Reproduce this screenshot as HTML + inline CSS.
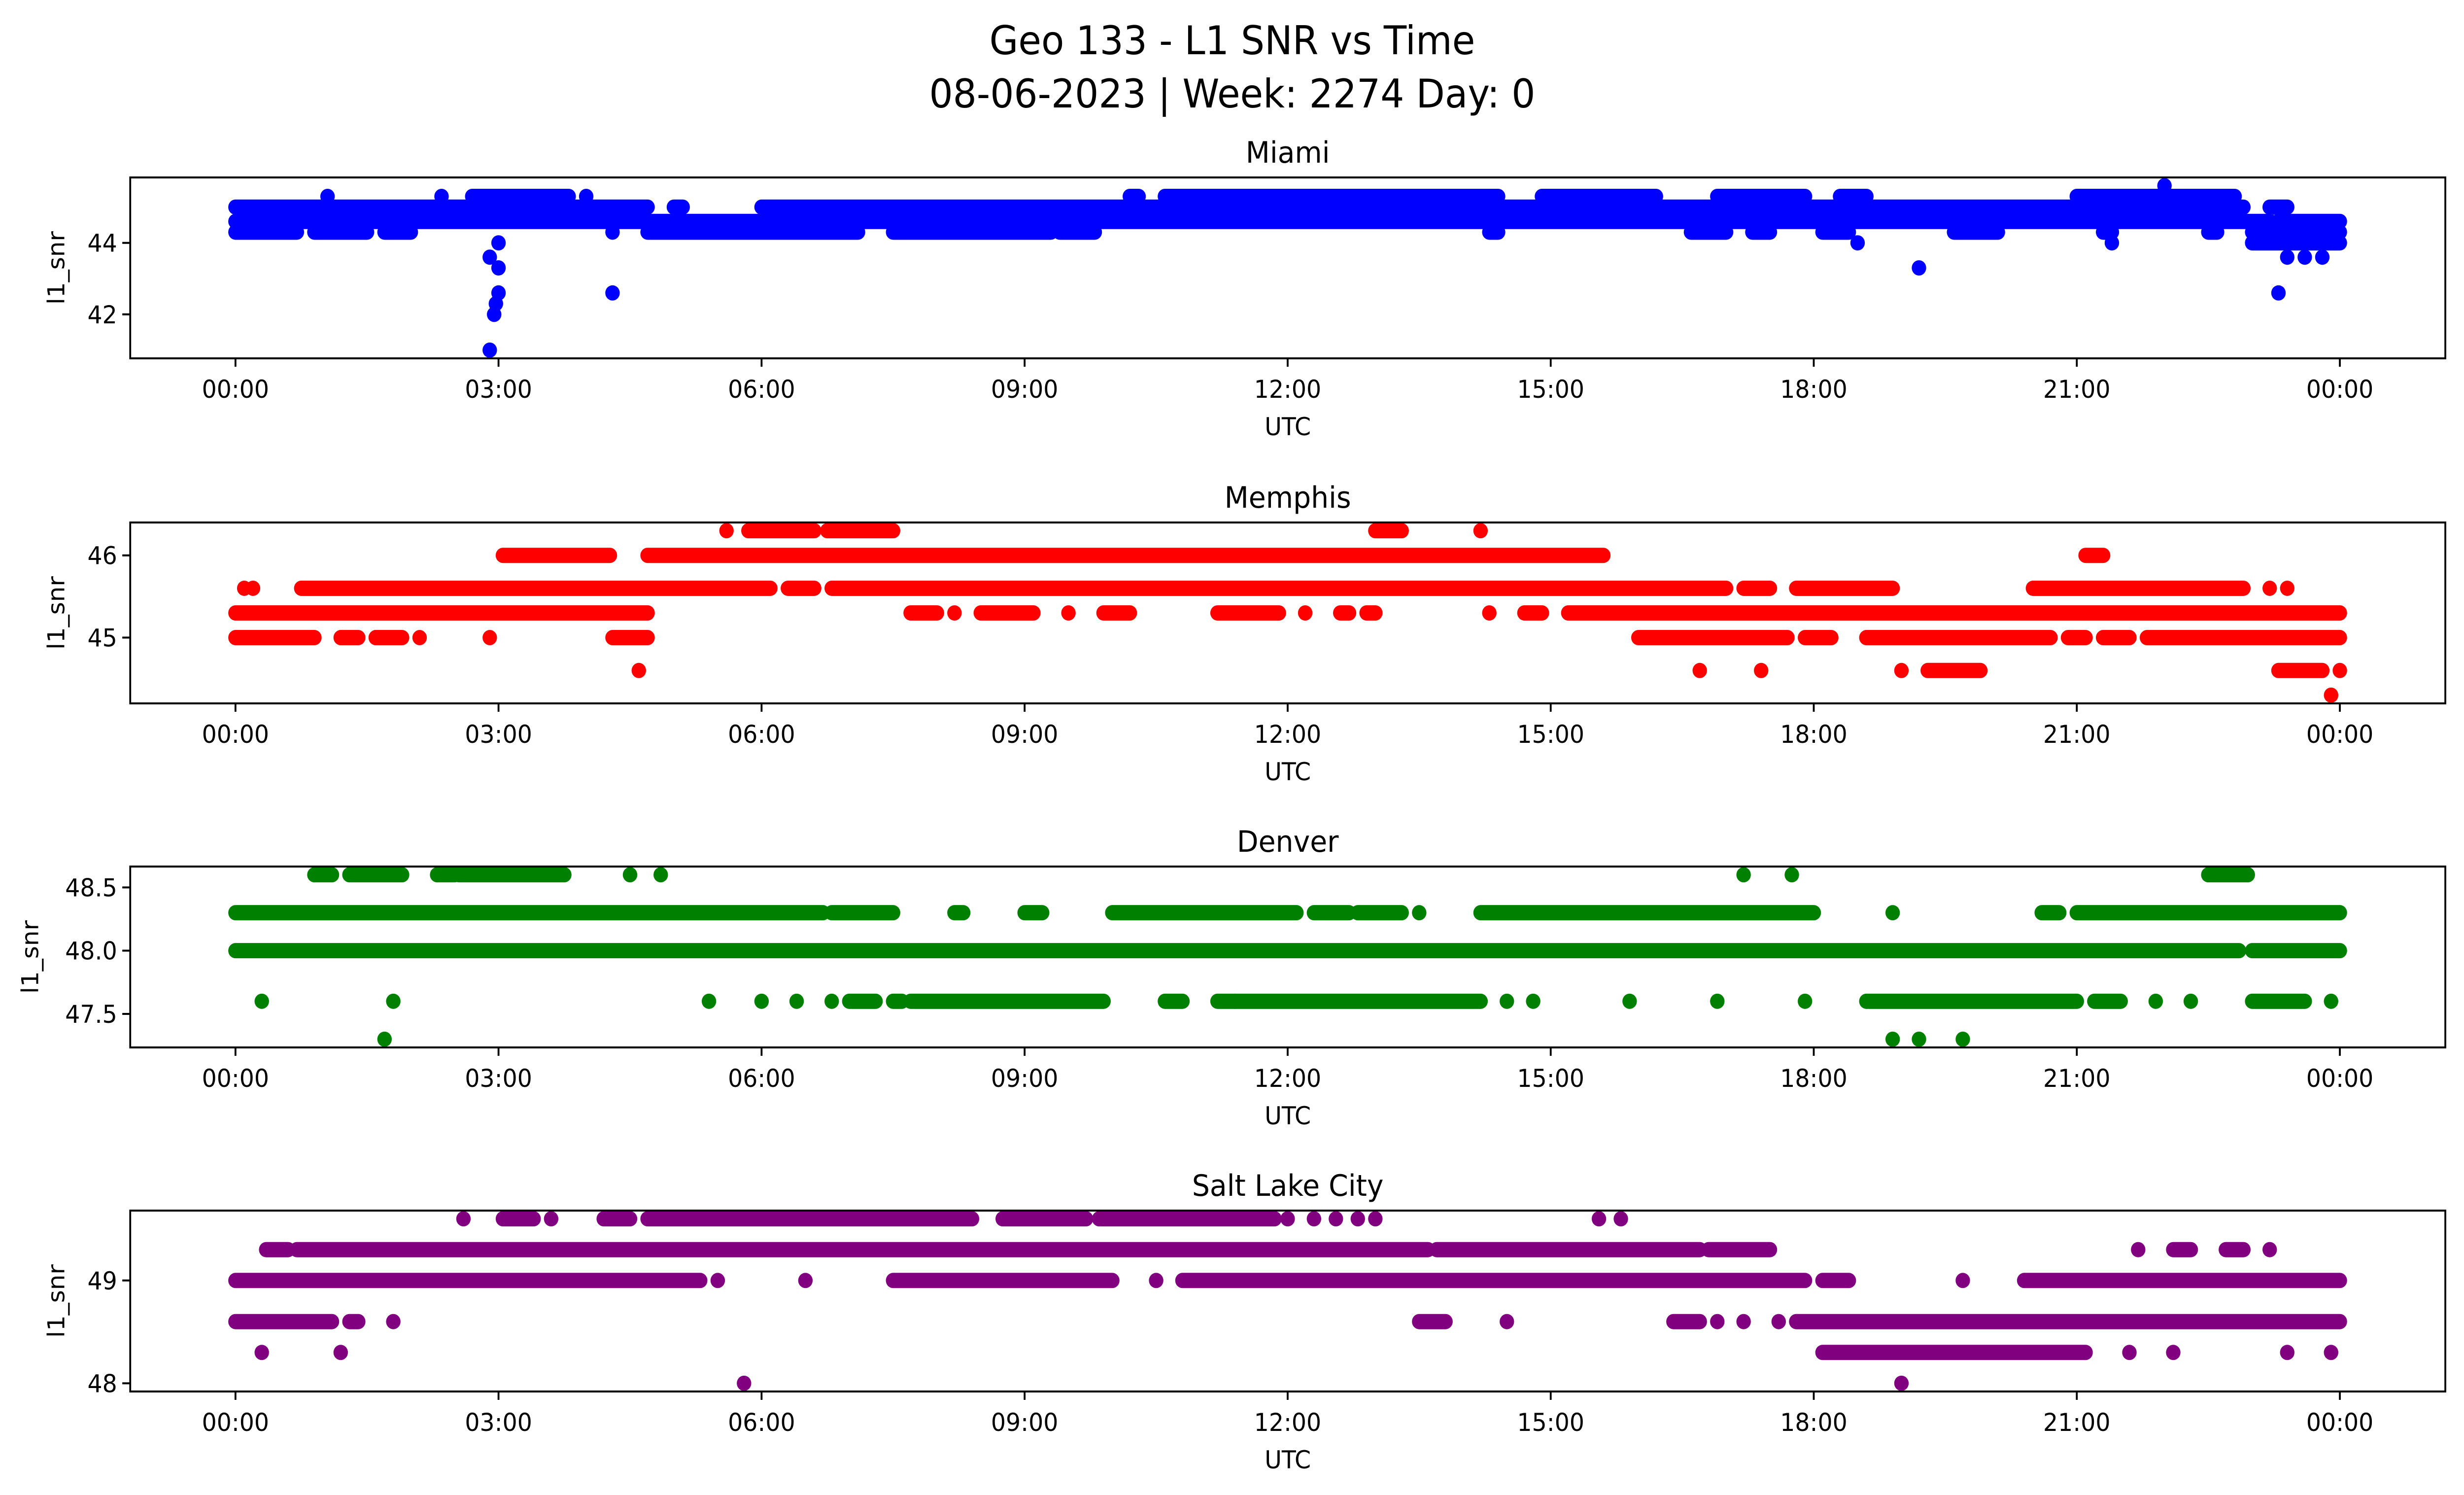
<!DOCTYPE html>
<html><head><meta charset="utf-8"><style>
html,body{margin:0;padding:0;background:#fff;width:100%;height:100%;overflow:hidden;}
svg{display:block;position:absolute;left:0;top:0;width:100%;height:100%;font-family:"DejaVu Sans","Liberation Sans",sans-serif;}
</style></head><body>
<svg id="chart" viewBox="0 0 5279 3033" preserveAspectRatio="none" xmlns="http://www.w3.org/2000/svg">
<rect width="5279" height="3033" fill="#fff"/>
<text x="2640" y="110" font-size="80" text-anchor="middle">Geo 133 - L1 SNR vs Time</text>
<text x="2640" y="218" font-size="80" text-anchor="middle">08-06-2023 | Week: 2274 Day: 0</text>
</svg>
<script>
// ---- data ----
const xTickLabels = ["00:00","03:00","06:00","09:00","12:00","15:00","18:00","21:00","00:00"];
const xTickHours = [0,3,6,9,12,15,18,21,24];
const panelNames = ["Miami","Memphis","Denver","Salt Lake City"];
const panelColors = ["#0000ff","#ff0000","#008000","#800080"];
const yLims = [[40.77,45.83],[44.2,46.4],[47.235,48.665],[47.92,49.68]];
const yTicks = [[42,44],[45,46],[47.5,48.0,48.5],[48,49]];
const yTickLabels = [["42","44"],["45","46"],["47.5","48.0","48.5"],["48","49"]];

// runs: [level, startHour, endHour]
const miamiRuns = [[44.3,0.0,0.7],[44.3,0.9,1.5],[44.3,1.7,2.0],[44.3,4.7,7.1],[44.3,7.5,9.3],[44.3,9.4,9.8],[44.3,14.3,14.4],[44.3,16.6,17.0],[44.3,17.3,17.5],[44.3,18.1,18.4],[44.3,19.6,20.1],[44.3,21.3,21.4],[44.3,22.5,22.6],[44.3,23.0,24.0],
 [44.6,0,23.2],[44.6,23.3,24.0],[45.0,0,4.7],[45.0,5.0,5.1],[45.0,6.0,22.9],[45.0,23.2,23.4],
 [45.3,2.7,3.8],[45.3,10.2,10.3],[45.3,10.6,14.4],[45.3,14.9,16.2],[45.3,16.9,17.9],[45.3,18.3,18.6],[45.3,21.0,22.8],[44.0,23.0,24.0]];
const miamiPoints = [[2.9,41.0],[2.95,42.0],[2.97,42.3],[3.0,42.6],[2.9,43.6],[3.0,43.3],[3.0,44.0],[4.3,42.6],[4.3,44.3],[18.5,44.0],[19.2,43.3],[21.4,44.0],[22.0,45.6],[23.3,42.6],[23.4,43.6],[23.6,43.6],[23.8,43.6],[1.05,45.3],[2.35,45.3],[4.0,45.3]];

const memphisRuns = [[45.3,0,4.7],[45.3,7.7,8.0],[45.3,8.5,9.1],[45.3,9.9,10.2],[45.3,11.2,11.9],[45.3,12.6,12.7],[45.3,12.9,13.0],[45.3,14.7,14.9],[45.3,15.2,24],
 [45.0,0,0.9],[45.0,1.2,1.4],[45.0,1.6,1.9],[45.0,4.3,4.7],[45.0,16.0,17.7],[45.0,17.9,18.2],[45.0,18.6,20.7],[45.0,20.9,21.1],[45.0,21.3,21.6],[45.0,21.8,24],
 [45.6,0.75,6.1],[45.6,6.3,6.6],[45.6,6.8,17.0],[45.6,17.2,17.5],[45.6,17.8,18.9],[45.6,20.5,22.9],
 [46.0,3.05,4.27],[46.0,4.7,15.6],[46.0,21.1,21.3],
 [46.3,5.85,6.6],[46.3,6.75,7.5],[46.3,13.0,13.3],[44.6,19.3,19.9],[44.6,23.3,23.8]];
const memphisPoints = [[0.1,45.6],[0.2,45.6],[1.6,45.0],[2.1,45.0],[2.9,45.0],[8.2,45.3],[9.5,45.3],[14.3,45.3],[12.2,45.3],[5.6,46.3],[14.2,46.3],[4.6,44.6],[16.7,44.6],[17.4,44.6],[19.0,44.6],[24.0,44.6],[23.9,44.3],[23.2,45.6],[23.4,45.6]];

const denverRuns = [[48.0,0,22.85],[48.0,23.0,24],
 [48.3,0,6.7],[48.3,6.8,7.5],[48.3,8.2,8.3],[48.3,9.0,9.2],[48.3,10.0,12.1],[48.3,12.3,12.7],[48.3,12.8,13.3],[48.3,14.2,18.0],[48.3,20.6,20.8],[48.3,21.0,24.0],
 [48.6,0.9,1.1],[48.6,1.3,1.9],[48.6,2.3,2.5],[48.6,2.55,3.75],[48.6,22.5,22.95],
 [47.6,7.0,7.3],[47.6,7.5,7.6],[47.6,7.7,9.9],[47.6,10.6,10.8],[47.6,11.2,11.4],[47.6,11.4,14.2],[47.6,18.6,21.0],[47.6,21.2,21.5],[47.6,23.0,23.6]];
const denverPoints = [[4.5,48.6],[4.85,48.6],[17.2,48.6],[17.75,48.6],[13.5,48.3],[18.9,48.3],[0.3,47.6],[1.8,47.6],[5.4,47.6],[6.0,47.6],[6.4,47.6],[6.8,47.6],[14.5,47.6],[14.8,47.6],[15.9,47.6],[16.9,47.6],[17.9,47.6],[21.9,47.6],[22.3,47.6],[23.9,47.6],[1.7,47.3],[18.9,47.3],[19.2,47.3],[19.7,47.3]];

const slcRuns = [[49.0,0,5.3],[49.0,7.5,10.0],[49.0,10.8,17.9],[49.0,18.1,18.4],[49.0,20.4,24],
 [49.3,0.35,0.6],[49.3,0.7,13.6],[49.3,13.7,16.7],[49.3,16.8,17.5],[49.3,22.1,22.3],[49.3,22.7,22.9],
 [49.6,2.6,2.6],[49.6,3.05,3.4],[49.6,4.2,4.5],[49.6,4.7,8.4],[49.6,8.75,9.7],[49.6,9.85,11.85],
 [48.6,0,1.1],[48.6,1.3,1.4],[48.6,13.5,13.8],[48.6,16.4,16.7],[48.6,17.8,24],[48.3,18.1,21.1]];
const slcPoints = [[5.5,49.0],[6.5,49.0],[10.5,49.0],[19.7,49.0],[21.7,49.3],[23.2,49.3],[3.6,49.6],[12.0,49.6],[12.3,49.6],[12.55,49.6],[12.8,49.6],[13.0,49.6],[15.55,49.6],[15.8,49.6],[1.8,48.6],[14.5,48.6],[16.9,48.6],[17.2,48.6],[17.6,48.6],[0.3,48.3],[1.2,48.3],[21.6,48.3],[22.1,48.3],[23.4,48.3],[23.9,48.3],[5.8,48.0],[19.0,48.0]];

const allRuns = [miamiRuns, memphisRuns, denverRuns, slcRuns];
const allPoints = [miamiPoints, memphisPoints, denverPoints, slcPoints];

// ---- layout ----
const NS = "http://www.w3.org/2000/svg";
const svg = document.getElementById("chart");
const AX_L = 279, AX_R = 5239;
const tops = [360, 1060, 1758, 2456];
const AX_H = 367;
const X0 = 504.5, X24 = 5013;
function xScale(h){ return X0 + h*(X24-X0)/24; }
function yScaleFor(i){ const t=tops[i], b=tops[i]+AX_H, lo=yLims[i][0], hi=yLims[i][1]; return v => b - (v-lo)/(hi-lo)*(b-t); }
function mk(tag, attrs, parent){ const e=document.createElementNS(NS, tag); for(const k in attrs) e.setAttribute(k, attrs[k]); (parent||svg).appendChild(e); return e; }

for (let i=0;i<4;i++){
  const top=tops[i], bot=top+AX_H, ys=yScaleFor(i), col=panelColors[i];
  const g = mk("g", {});
  
  
  const clipId = "clip"+i;
  const cp = mk("clipPath", {id:clipId}, g);
  mk("rect", {x:AX_L, y:top, width:AX_R-AX_L, height:AX_H}, cp);
  const marks = mk("g", {"clip-path":"url(#"+clipId+")"}, g);
  
  
  allRuns[i].forEach(r=>{
    const ln = mk("line", {x1:xScale(r[1]), x2:xScale(r[2]), y1:ys(r[0]), y2:ys(r[0]), stroke:col, "stroke-width":31, "stroke-linecap":"round"}, marks);
    
    
  });
  allPoints[i].forEach(p=>{
    const c = mk("circle", {cx:xScale(p[0]), cy:ys(p[1]), r:15.5, fill:col}, marks);
    
    
  });
  const frame = mk("rect", {x:AX_L, y:top, width:AX_R-AX_L, height:AX_H, fill:"none", stroke:"#000", "stroke-width":4}, g);
  
  
  xTickHours.forEach((h,k)=>{
    const x=xScale(h);
    mk("line", {x1:x, x2:x, y1:bot, y2:bot+17, stroke:"#000", "stroke-width":4}, g);
    const t = mk("text", {x:x, y:bot+80, "font-size":50, "text-anchor":"middle"}, g);
    t.textContent = xTickLabels[k];
    
    
  });
  yTicks[i].forEach((v,k)=>{
    const y=ys(v);
    mk("line", {x1:AX_L-17, x2:AX_L, y1:y, y2:y, stroke:"#000", "stroke-width":4}, g);
    const t = mk("text", {x:AX_L-28, y:y+18, "font-size":50, "text-anchor":"end"}, g);
    t.textContent = yTickLabels[i][k];
    
    
  });
  const xl = mk("text", {x:(AX_L+AX_R)/2, y:bot+156, "font-size":50, "text-anchor":"middle"}, g);
  xl.textContent = "UTC";
  
  
  const lx = (i===2) ? 82 : 138;
  const yl = mk("text", {x:lx, y:top+AX_H/2, "font-size":50, "text-anchor":"middle", transform:"rotate(-90 "+lx+" "+(top+AX_H/2)+")"}, g);
  yl.textContent = "l1_snr";
  
  
  const tt = mk("text", {x:(AX_L+AX_R)/2, y:top-30, "font-size":60, "text-anchor":"middle"}, g);
  tt.textContent = panelNames[i];
  
  
}
</script>
</body></html>
